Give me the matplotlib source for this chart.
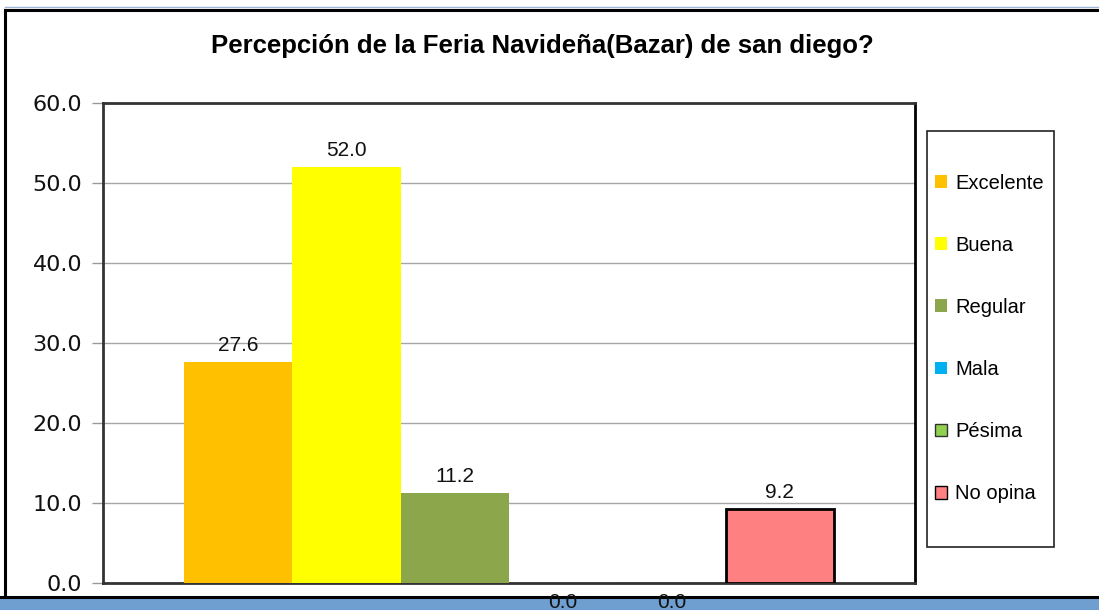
import matplotlib
matplotlib.use("Agg")
import matplotlib.pyplot as plt
from matplotlib.patches import Rectangle
from matplotlib.lines import Line2D

# survey answers and their percentages
categorias = ['Excelente', 'Buena', 'Regular', 'Mala', 'Pésima', 'No opina']
porcentajes = [27.6, 52.0, 11.2, 0.0, 0.0, 9.2]
colores = ['#FFC000', '#FFFF00', '#8BA64B', '#00B0F0', '#92D050', '#FF8080']
bordes = ['none', 'none', 'none', 'none', '#333333', '#000000']
yticks = [0, 10, 20, 30, 40, 50, 60]

titulo = 'Percepción de la Feria Navideña(Bazar) de san diego?'

W, H = 1099, 610
fig = plt.figure(figsize=(W / 100, H / 100), dpi=100)
fig.patch.set_facecolor('white')


def fx(px):
    return px / W


def fy(py):
    return 1 - py / H


# frame around the whole chart and the blue strip at the bottom
fondo = dict(transform=fig.transFigure, zorder=-1)
fig.add_artist(Rectangle((0, 0), 1, fy(599), facecolor='#6F9FD0',
                         edgecolor='none', **fondo))
fig.add_artist(Line2D([fx(5), 1], [fy(7), fy(7)], color='#9DB7D8', lw=1, **fondo))
fig.add_artist(Line2D([fx(5), 1], [fy(9.5), fy(9.5)], color='black', lw=2.2, **fondo))
fig.add_artist(Line2D([0, 1], [fy(597), fy(597)], color='black', lw=2.2, **fondo))
fig.add_artist(Line2D([fx(5), fx(5)], [fy(9.5), fy(597)], color='black', lw=2.2, **fondo))
# legend box
fig.add_artist(Rectangle((fx(927), fy(547)), fx(1054) - fx(927), fy(131) - fy(547),
                         facecolor='white', edgecolor='#222222', lw=1.2, **fondo))

ax = fig.add_axes([fx(103), fy(583), fx(915) - fx(103), fy(103) - fy(583)])

x = list(range(len(categorias)))
for i in x:
    ax.bar(i, porcentajes[i], width=1.0, color=colores[i],
           edgecolor=bordes[i], linewidth=2 if i == 5 else 1,
           label=categorias[i], zorder=3)

for i in x:
    v = porcentajes[i]
    off = 8 if v > 0 else -18
    ax.annotate(f'{v:.1f}', (i, v), xytext=(0, off), textcoords='offset points',
                ha='center', va='baseline', fontsize=15,
                family='Liberation Sans', color='#111111', zorder=5,
                annotation_clip=False)

ax.set_xlim(-1.248, 6.248)
ax.set_ylim(0, 60)
ax.set_yticks(yticks)
ax.set_yticklabels([f'{t:.1f}' for t in yticks], fontsize=16,
                   family='DejaVu Sans', color='#111111')
ax.set_xticks([])
ax.tick_params(axis='y', length=8, width=1, color='#999999', pad=7)
ax.yaxis.grid(True, color='#A6A6A6', linewidth=1, zorder=0)
ax.set_axisbelow(True)
for s in ax.spines.values():
    s.set_linewidth(2)
    s.set_color('#333333')
ax.spines['right'].set_color('black')

fig.text(fx(542), fy(53), titulo, ha='center', va='baseline',
         fontsize=18.5, fontweight='bold', family='Liberation Sans')

leg = ax.legend(loc='center left', bbox_to_anchor=(fx(935), fy(338.5)),
                bbox_transform=fig.transFigure, frameon=False,
                prop={'family': 'Liberation Sans', 'size': 14.5},
                handlelength=0.6, handleheight=0.6, handletextpad=0.4,
                labelspacing=2.14, borderpad=0, borderaxespad=0)
for h in leg.legend_handles:
    h.set_linewidth(1)

fig.savefig('out.png', dpi=100, facecolor='white')
